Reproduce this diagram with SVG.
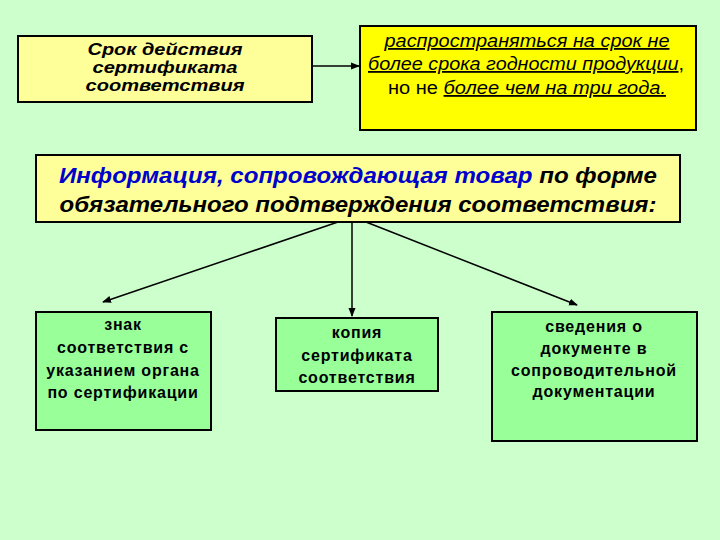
<svg xmlns="http://www.w3.org/2000/svg" width="720" height="540" viewBox="0 0 720 540">
<defs>
<marker id="ah" markerWidth="9" markerHeight="8" refX="8" refY="4" orient="auto" markerUnits="userSpaceOnUse">
<path d="M0,0.5 L9,4 L0,7.5 Z" fill="#000"/>
</marker>
<style>
.box{stroke:#000;stroke-width:2}
.t{font-family:"Liberation Sans",Arial,sans-serif;text-anchor:middle;fill:#000}
.bi{font-weight:bold;font-style:italic}
.g{font-weight:bold;font-size:16px;letter-spacing:0.8px}
.c{stroke:#000;stroke-width:1.5;fill:none;marker-end:url(#ah)}
</style>
</defs>
<rect width="720" height="540" fill="#ccffcc"/>
<g id="srok">
<rect class="box" x="18" y="36" width="294" height="66" fill="#ffff99"/>
<text class="t bi" font-size="16.5" x="165" y="55" textLength="155" lengthAdjust="spacingAndGlyphs">Срок действия</text>
<text class="t bi" font-size="16.5" x="165" y="73" textLength="145" lengthAdjust="spacingAndGlyphs">сертификата</text>
<text class="t bi" font-size="16.5" x="165" y="91" textLength="159" lengthAdjust="spacingAndGlyphs">соответствия</text>
</g>
<g id="rasp">
<rect class="box" x="360" y="26" width="336" height="104" fill="#ffff00"/>
<text class="t" font-size="18" x="527" y="47" font-style="italic" text-decoration="underline" textLength="285" lengthAdjust="spacingAndGlyphs">распространяться на срок не</text>
<text class="t" font-size="18" x="526" y="70" textLength="316" lengthAdjust="spacingAndGlyphs"><tspan font-style="italic" text-decoration="underline">более срока годности продукции</tspan>,</text>
<text class="t" font-size="18" x="527" y="94" textLength="278" lengthAdjust="spacingAndGlyphs">но не <tspan font-style="italic" text-decoration="underline">более чем на три года.</tspan></text>
</g>
<g id="info">
<rect class="box" x="36" y="155" width="644" height="67" fill="#ffff99"/>
<text class="t bi" font-size="22" x="358" y="183" textLength="598" lengthAdjust="spacingAndGlyphs"><tspan fill="#0000cc">Информация, сопровождающая товар</tspan> по форме</text>
<text class="t bi" font-size="22" x="358" y="212" textLength="597" lengthAdjust="spacingAndGlyphs">обязательного подтверждения соответствия:</text>
</g>
<g id="znak">
<rect class="box" x="36" y="312" width="175" height="118" fill="#99ff99"/>
<text class="t g" x="123" y="330">знак</text>
<text class="t g" x="123" y="353">соответствия с</text>
<text class="t g" x="123" y="376">указанием органа</text>
<text class="t g" x="123" y="398">по сертификации</text>
</g>
<g id="kopia">
<rect class="box" x="276" y="318" width="162" height="73" fill="#99ff99"/>
<text class="t g" x="357" y="338">копия</text>
<text class="t g" x="357" y="361">сертификата</text>
<text class="t g" x="357" y="383">соответствия</text>
</g>
<g id="sved">
<rect class="box" x="492" y="312" width="205" height="129" fill="#99ff99"/>
<text class="t g" x="594" y="332">сведения о</text>
<text class="t g" x="594" y="354">документе в</text>
<text class="t g" x="594" y="376">сопроводительной</text>
<text class="t g" x="594" y="397">документации</text>
</g>
<g id="connectors">
<line class="c" x1="312" y1="66" x2="359" y2="66"/>
<line class="c" x1="338" y1="222" x2="103" y2="302"/>
<line class="c" x1="352" y1="222" x2="352" y2="316"/>
<line class="c" x1="366" y1="222" x2="577" y2="305"/>
</g>
</svg>
